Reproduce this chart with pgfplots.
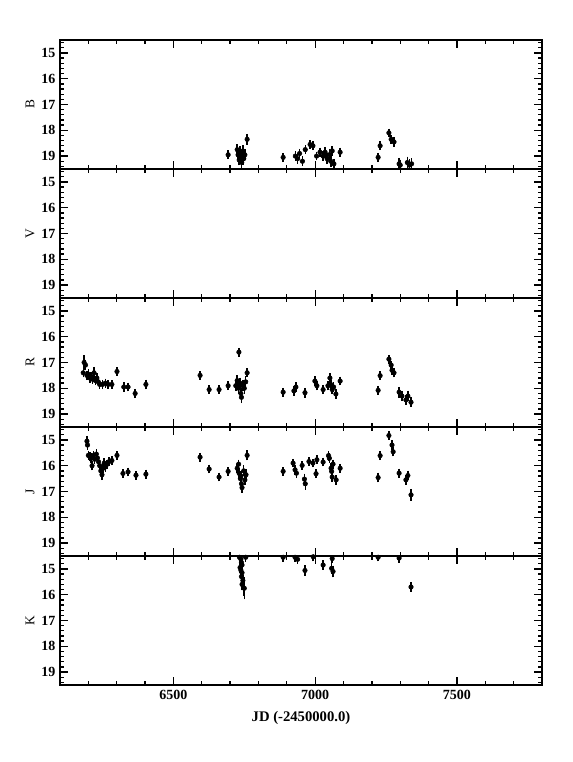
\documentclass[border=0pt]{standalone}
\usepackage{fontspec}
\setmainfont{Liberation Serif}
\usepackage{pgfplots}
\pgfplotsset{compat=1.18}
\usepackage{pgfplotstable}

\pgfplotstableread{
x y e
6693 18.95 0.04
6725 18.75 0.08
6728 18.95 0.08
6732 19.15 0.08
6735 18.85 0.1
6738 19.05 0.08
6741 19.25 0.1
6745 18.8 0.1
6748 19.1 0.1
6752 18.95 0.08
6760 18.35 0.08
6887 19.05 0.05
6930 19.0 0.05
6938 19.1 0.08
6945 18.9 0.05
6955 19.2 0.06
6965 18.75 0.04
6982 18.55 0.04
6992 18.6 0.04
7005 19.0 0.04
7017 18.85 0.05
7028 19.0 0.05
7035 18.85 0.08
7042 19.1 0.08
7050 18.95 0.1
7055 19.2 0.1
7060 18.8 0.05
7066 19.3 0.06
7088 18.85 0.05
7222 19.05 0.05
7229 18.6 0.04
7260 18.1 0.04
7268 18.35 0.04
7278 18.45 0.05
7296 19.3 0.1
7300 19.35 0.08
7325 19.25 0.1
7332 19.35 0.1
7340 19.3 0.08
}\Bdata

\pgfplotstableread{
x y e
6185 17.0 0.15
6190 17.1 0.08
6182 17.4 0.05
6195 17.5 0.05
6200 17.45 0.05
6205 17.6 0.05
6210 17.55 0.05
6215 17.65 0.05
6220 17.4 0.1
6225 17.7 0.05
6230 17.6 0.05
6235 17.75 0.05
6240 17.85 0.05
6250 17.85 0.05
6260 17.8 0.05
6270 17.85 0.04
6283 17.85 0.04
6301 17.35 0.04
6325 17.95 0.05
6340 17.95 0.04
6365 18.2 0.05
6403 17.85 0.06
6594 17.5 0.04
6626 18.05 0.04
6661 18.05 0.04
6693 17.9 0.04
6731 16.6 0.04
6720 17.9 0.08
6725 17.7 0.08
6730 18.0 0.08
6735 17.8 0.08
6738 18.2 0.1
6740 18.35 0.1
6745 17.9 0.08
6750 18.0 0.08
6755 17.75 0.08
6760 17.4 0.04
6887 18.15 0.04
6925 18.1 0.06
6932 17.95 0.06
6964 18.17 0.06
6999 17.72 0.06
7006 17.9 0.05
7028 18.05 0.05
7045 17.9 0.05
7052 17.6 0.05
7055 17.85 0.05
7060 18.05 0.05
7065 17.95 0.05
7073 18.22 0.06
7088 17.72 0.04
7222 18.08 0.04
7229 17.51 0.04
7260 16.87 0.04
7268 17.1 0.04
7271 17.3 0.04
7278 17.4 0.05
7296 18.15 0.08
7306 18.3 0.06
7320 18.45 0.05
7327 18.3 0.08
7338 18.54 0.06
}\Rdata

\pgfplotstableread{
x y e
6195 15.05 0.08
6197 15.2 0.06
6200 15.6 0.05
6205 15.65 0.05
6210 15.7 0.05
6213 16.0 0.05
6218 15.6 0.05
6222 15.75 0.05
6228 15.55 0.05
6232 15.7 0.05
6236 15.85 0.06
6240 16.0 0.06
6244 16.2 0.06
6248 16.35 0.08
6252 16.1 0.06
6256 15.9 0.05
6260 16.05 0.06
6265 15.95 0.05
6272 15.85 0.05
6283 15.8 0.05
6301 15.6 0.04
6322 16.3 0.04
6340 16.24 0.04
6368 16.37 0.04
6403 16.33 0.05
6594 15.67 0.04
6626 16.13 0.04
6661 16.44 0.04
6693 16.22 0.04
6725 16.1 0.05
6730 15.94 0.05
6732 16.3 0.08
6736 16.5 0.08
6738 16.4 0.08
6740 16.7 0.08
6742 16.85 0.06
6748 16.2 0.08
6752 16.55 0.08
6756 16.35 0.08
6760 15.6 0.06
6887 16.22 0.04
6922 15.9 0.04
6929 16.16 0.06
6934 16.29 0.06
6954 15.99 0.04
6962 16.52 0.08
6965 16.7 0.1
6978 15.84 0.04
6992 15.9 0.04
7003 16.31 0.04
7006 15.77 0.04
7028 15.86 0.04
7047 15.61 0.06
7050 15.71 0.06
7056 16.1 0.06
7058 16.22 0.06
7063 15.94 0.05
7060 16.44 0.06
7074 16.55 0.06
7088 16.1 0.04
7222 16.46 0.06
7229 15.61 0.04
7260 14.83 0.04
7271 15.2 0.05
7275 15.46 0.05
7296 16.29 0.05
7320 16.55 0.06
7327 16.38 0.06
7338 17.13 0.1
}\Jdata

\pgfplotstableread{
x y e
6733 14.55 0.05
6738 14.62 0.06
6740 14.75 0.06
6742 14.85 0.08
6735 14.95 0.08
6738 15.05 0.08
6742 15.15 0.08
6740 15.3 0.08
6745 15.45 0.1
6742 15.6 0.1
6750 15.75 0.3
6755 14.55 0.05
6887 14.55 0.04
6929 14.55 0.04
6938 14.63 0.05
6964 15.06 0.08
6993 14.53 0.05
7028 14.85 0.05
7060 14.6 0.05
7058 14.98 0.08
7063 15.1 0.1
7222 14.55 0.03
7296 14.58 0.05
7338 15.7 0.06
}\Kdata

\pgfplotsset{
  panel/.style={
    width=361.5pt, height=96.75pt, scale only axis,
    xmin=6100, xmax=7800, ymin=14.5, ymax=19.5, y dir=reverse,
    xtick={6500,7000,7500},
    minor xtick={6100,6200,6300,6400,6600,6700,6800,6900,7100,7200,7300,7400,7600,7700,7800},
    ytick={15,16,17,18,19},
    minor ytick={14.6,14.8,15.2,15.4,15.6,15.8,16.2,16.4,16.6,16.8,17.2,17.4,17.6,17.8,18.2,18.4,18.6,18.8,19.2,19.4},
    tick align=inside, xtick pos=both, ytick pos=both,
    major tick length=6pt, minor tick length=3pt,
    every tick/.style={black, line width=1pt},
    axis line style={line width=1.1pt},
    xticklabels={},
    /pgf/number format/assume math mode=true,
    /pgf/number format/1000 sep={},
    tick label style={font=\bfseries\fontsize{10.5}{12}\selectfont},
    label style={font=\bfseries\fontsize{11}{12}\selectfont},
    every axis y label/.style={at={(axis description cs:0,0.5)}, xshift=-22.5pt, rotate=90, anchor=center},
    clip=true,
  },
  pts/.style={only marks, mark=*, mark size=1.7pt, black,
    error bars/.cd, y dir=both, y explicit,
    error bar style={line width=1.2pt, black},
    error mark options={black, mark size=2.5pt, line width=1.1pt}},
}

\begin{document}
\begin{tikzpicture}
\path[use as bounding box] (-45pt,-57.75pt) rectangle (384pt,513.75pt);

\begin{axis}[panel, at={(0pt,387pt)}, anchor=south west, ylabel={B}]
\addplot[pts] table[x=x, y=y, y error=e] {\Bdata};
\node[font=\bfseries\fontsize{11}{12}\selectfont, anchor=base] at (rel axis cs:0.5,1) [xshift=8pt, yshift=18pt] {Blazar = 0458-02};
\end{axis}

\begin{axis}[panel, at={(0pt,290.25pt)}, anchor=south west, ylabel={V}]
\end{axis}

\begin{axis}[panel, at={(0pt,193.5pt)}, anchor=south west, ylabel={R}]
\addplot[pts] table[x=x, y=y, y error=e] {\Rdata};
\end{axis}

\begin{axis}[panel, at={(0pt,96.75pt)}, anchor=south west, ylabel={J}]
\addplot[pts] table[x=x, y=y, y error=e] {\Jdata};
\end{axis}

\begin{axis}[panel, at={(0pt,0pt)}, anchor=south west, ylabel={K},
  xticklabels={6500,7000,7500}, xlabel={JD (-2450000.0)},
  xlabel style={yshift=-2pt}]
\addplot[pts] table[x=x, y=y, y error=e] {\Kdata};
\end{axis}
\end{tikzpicture}
\end{document}
